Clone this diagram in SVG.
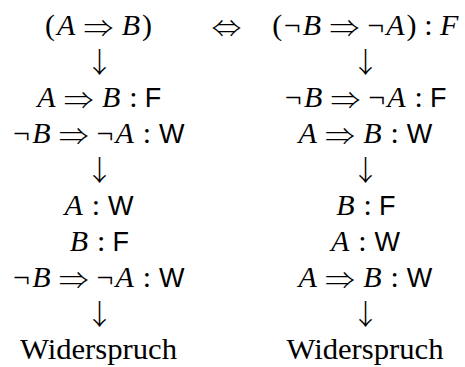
<svg xmlns="http://www.w3.org/2000/svg" width="465" height="367" viewBox="0 0 465 367">
<style>
text { text-anchor: middle; fill: #000; }
.it { font-family: "Liberation Serif", "DejaVu Serif", serif; font-style: italic; font-size: 30px; }
.rm { font-family: "Liberation Serif", "DejaVu Serif", serif; font-size: 30px; }
.sym { font-family: "Noto Sans CJK JP", "DejaVu Serif", sans-serif; font-size: 24px; font-weight: 300; }
.sf { font-family: "Liberation Sans", "DejaVu Sans", sans-serif; font-size: 27px; }
.arr { font-family: "Noto Sans CJK JP", "DejaVu Serif", sans-serif; font-size: 28px; font-weight: 300; }
</style>
<rect width="465" height="367" fill="#fff"/>

<g id="row1-left"><text y="35"><tspan class="rm" x="50.1">(</tspan><tspan class="it" x="66.1">A</tspan><tspan class="it" x="130.8">B</tspan><tspan class="rm" x="146.9">)</tspan></text><text class="sym" transform="translate(98.4,37) scale(1.25,1)">⇒</text></g>
<g id="equiv"><text class="sym" transform="translate(226.5,37) scale(1.25,1)">⇔</text></g>
<g id="row1-right"><text y="35"><tspan class="rm" x="277.3">(</tspan><tspan class="rm" x="292.1">¬</tspan><tspan class="it" x="312">B</tspan><tspan class="rm" x="375.6">¬</tspan><tspan class="it" x="395.4">A</tspan><tspan class="rm" x="411.4">)</tspan><tspan class="rm" x="428.5">:</tspan><tspan class="it" x="449.1">F</tspan></text><text class="sym" transform="translate(344.4,37) scale(1.25,1)">⇒</text></g>

<g id="row3-left"><text y="107"><tspan class="it" x="46.5">A</tspan><tspan class="it" x="111.2">B</tspan><tspan class="rm" x="133.5">:</tspan><tspan class="sf" x="153.1">F</tspan></text><text class="sym" transform="translate(78.8,109) scale(1.25,1)">⇒</text></g>
<g id="row3-right"><text y="107"><tspan class="rm" x="293.1">¬</tspan><tspan class="it" x="313.1">B</tspan><tspan class="rm" x="376.7">¬</tspan><tspan class="it" x="396.5">A</tspan><tspan class="rm" x="418.7">:</tspan><tspan class="sf" x="438.3">F</tspan></text><text class="sym" transform="translate(345.5,109) scale(1.25,1)">⇒</text></g>

<g id="row4-left"><text y="143"><tspan class="rm" x="21.4">¬</tspan><tspan class="it" x="41.3">B</tspan><tspan class="rm" x="104.9">¬</tspan><tspan class="it" x="124.7">A</tspan><tspan class="rm" x="146.9">:</tspan><tspan class="sf" x="171.7">W</tspan></text><text class="sym" transform="translate(73.7,145) scale(1.25,1)">⇒</text></g>
<g id="row4-right"><text y="143"><tspan class="it" x="307.7">A</tspan><tspan class="it" x="372.4">B</tspan><tspan class="rm" x="394.7">:</tspan><tspan class="sf" x="419.6">W</tspan></text><text class="sym" transform="translate(340,145) scale(1.25,1)">⇒</text></g>

<g id="row6-left"><text y="215"><tspan class="it" x="73.6">A</tspan><tspan class="rm" x="95.8">:</tspan><tspan class="sf" x="120.7">W</tspan></text></g>
<g id="row6-right"><text y="215"><tspan class="it" x="345.4">B</tspan><tspan class="rm" x="367.7">:</tspan><tspan class="sf" x="387.3">F</tspan></text></g>

<g id="row7-left"><text y="251"><tspan class="it" x="78.9">B</tspan><tspan class="rm" x="101.2">:</tspan><tspan class="sf" x="120.8">F</tspan></text></g>
<g id="row7-right"><text y="251"><tspan class="it" x="340.1">A</tspan><tspan class="rm" x="362.3">:</tspan><tspan class="sf" x="387.2">W</tspan></text></g>

<g id="row8-left"><text y="287"><tspan class="rm" x="21.4">¬</tspan><tspan class="it" x="41.3">B</tspan><tspan class="rm" x="104.9">¬</tspan><tspan class="it" x="124.7">A</tspan><tspan class="rm" x="146.9">:</tspan><tspan class="sf" x="171.7">W</tspan></text><text class="sym" transform="translate(73.7,289) scale(1.25,1)">⇒</text></g>
<g id="row8-right"><text y="287"><tspan class="it" x="307.7">A</tspan><tspan class="it" x="372.4">B</tspan><tspan class="rm" x="394.7">:</tspan><tspan class="sf" x="419.6">W</tspan></text><text class="sym" transform="translate(340,289) scale(1.25,1)">⇒</text></g>

<g id="result-left"><text class="rm" x="98.5" y="359" textLength="157" lengthAdjust="spacingAndGlyphs">Widerspruch</text></g>
<g id="result-right"><text class="rm" x="365" y="359" textLength="157" lengthAdjust="spacingAndGlyphs">Widerspruch</text></g>

<g id="connectors">
<text class="arr" x="99.5" y="73">↓</text>
<text class="arr" x="365.5" y="73">↓</text>
<text class="arr" x="99.5" y="181">↓</text>
<text class="arr" x="365.5" y="181">↓</text>
<text class="arr" x="99.5" y="325">↓</text>
<text class="arr" x="365.5" y="325">↓</text>
</g>
</svg>
